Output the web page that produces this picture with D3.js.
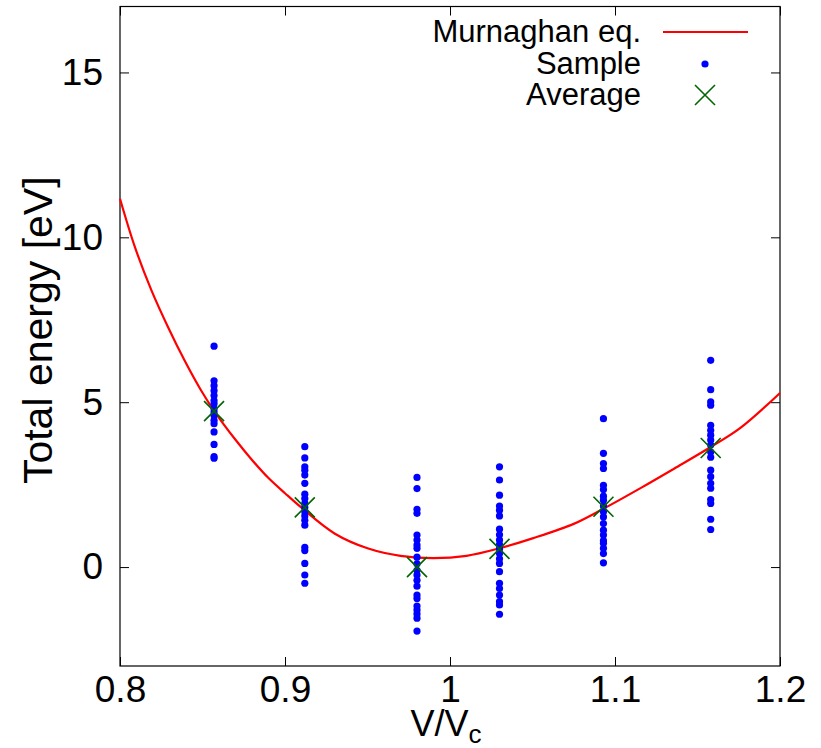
<!DOCTYPE html>
<html>
<head>
<meta charset="utf-8">
<script src="https://cdn.jsdelivr.net/npm/d3@7"></script>
<style>
  body { margin: 0; background: #fff; }
  text { font-family: "Liberation Sans", Arial, sans-serif; fill: #000; }
</style>
</head>
<body>
<div id="chart"></div>
<script>
// volumes of the six sample sets
const volumes = [0.857, 0.912, 0.980, 1.030, 1.093, 1.158]

// sample energies, one array per volume
const sample1 = [6.70, 5.65, 5.50, 5.35, 5.20, 5.05, 4.95, 4.80, 4.70, 4.60, 4.45, 4.35, 4.10, 3.72, 3.35, 3.30]
const sample2 = [3.65, 3.31, 3.04, 2.94, 2.79, 2.54, 2.21, 2.08, 1.93, 1.81, 1.68, 1.55, 1.42, 1.27, 0.60, 0.50, 0.11, -0.24, -0.49]
const sample3 = [2.72, 2.38, 1.75, 1.63, 0.97, 0.82, 0.67, 0.57, 0.30, 0.10, -0.10, -0.24, -0.40, -0.58, -0.85, -0.95, -1.18, -1.30, -1.42, -1.55, -1.94]
const sample4 = [3.04, 2.64, 2.18, 1.85, 1.72, 1.55, 1.15, 0.98, 0.82, 0.68, 0.55, 0.41, 0.25, 0.11, -0.14, -0.49, -0.65, -0.85, -1.05, -1.15, -1.43]
const sample5 = [4.50, 3.45, 3.14, 2.99, 2.48, 2.35, 2.15, 2.03, 1.85, 1.68, 1.52, 1.32, 1.12, 0.97, 0.80, 0.72, 0.57, 0.41, 0.13]
const sample6 = [6.27, 5.38, 5.01, 4.91, 4.30, 4.15, 4.00, 3.85, 3.70, 3.49, 3.33, 2.94, 2.74, 2.54, 2.39, 2.05, 1.93, 1.45, 1.14]
const samples = [sample1, sample2, sample3, sample4, sample5, sample6]

// average energy at each volume
const averages = [4.73, 1.81, 0.00, 0.55, 1.83, 3.61]

// Murnaghan fit
const curveV = [0.800, 0.809, 0.819, 0.829, 0.839, 0.849, 0.857, 0.870, 0.880, 0.890, 0.900, 0.910, 0.930, 0.950, 0.970, 0.990, 1.010, 1.030, 1.050, 1.075, 1.093, 1.116, 1.136, 1.158, 1.176, 1.200]
const curveE = [11.17, 9.71, 8.40, 7.29, 6.28, 5.37, 4.74, 3.86, 3.25, 2.70, 2.24, 1.80, 1.02, 0.57, 0.34, 0.27, 0.34, 0.57, 0.87, 1.31, 1.77, 2.41, 2.99, 3.64, 4.22, 5.28]

const xTicks = [0.8, 0.9, 1.0, 1.1, 1.2]
const xTickLabels = ["0.8", "0.9", "1", "1.1", "1.2"]
const yTicks = [0, 5, 10, 15]
const yTickLabels = ["0", "5", "10", "15"]

const legendLabels = ["Murnaghan eq.", "Sample", "Average"]

const width = 821
const height = 748
const margin = { top: 6.5, right: 41, bottom: 82, left: 120 }

const svg = d3.select("#chart").append("svg")
  .attr("width", width)
  .attr("height", height)

const x = d3.scaleLinear()
  .domain([0.8, 1.2])
  .range([margin.left, width - margin.right])

const y = d3.scaleLinear()
  .domain([-3, 17])
  .range([height - margin.bottom, margin.top])

const tick = 9

// axes, gnuplot style: ticks pointing inward on all four sides
function tidy(g) {
  g.select(".domain").remove()
  g.selectAll("line").attr("stroke", "#000").attr("stroke-width", 1)
}

svg.append("g")
  .attr("transform", `translate(0,${y(-3)})`)
  .call(d3.axisBottom(x).tickValues(xTicks).tickSize(-tick).tickPadding(10)
    .tickFormat((d, i) => xTickLabels[i]))
  .call(tidy)
  .call(g => g.selectAll("text").attr("font-size", 37))

svg.append("g")
  .attr("transform", `translate(0,${y(17)})`)
  .call(d3.axisTop(x).tickValues(xTicks).tickSize(-tick).tickFormat(""))
  .call(tidy)

svg.append("g")
  .attr("transform", `translate(${x(0.8)},0)`)
  .call(d3.axisLeft(y).tickValues(yTicks).tickSize(-tick).tickPadding(17)
    .tickFormat((d, i) => yTickLabels[i]))
  .call(tidy)
  .call(g => g.selectAll("text").attr("font-size", 37))

svg.append("g")
  .attr("transform", `translate(${x(1.2)},0)`)
  .call(d3.axisRight(y).tickValues(yTicks).tickSize(-tick).tickFormat(""))
  .call(tidy)

// frame
svg.append("rect")
  .attr("x", x(0.8))
  .attr("y", y(17))
  .attr("width", x(1.2) - x(0.8))
  .attr("height", y(-3) - y(17))
  .attr("fill", "none")
  .attr("stroke", "#000")
  .attr("stroke-width", 1.2)

// axis titles
svg.append("text")
  .attr("transform", `translate(52,${(y(17) + y(-3)) / 2 - 6}) rotate(-90)`)
  .attr("text-anchor", "middle")
  .attr("font-size", 41)
  .text("Total energy [eV]")

const xt = svg.append("text")
  .attr("x", x(1.0) - 4)
  .attr("y", 736)
  .attr("text-anchor", "middle")
  .attr("font-size", 36)
xt.append("tspan").text("V/V")
xt.append("tspan").attr("font-size", 26).attr("dy", 7).text("c")

// Murnaghan curve
const curveData = curveV.map((v, i) => [v, curveE[i]])
const line = d3.line()
  .x(d => x(d[0]))
  .y(d => y(d[1]))
  .curve(d3.curveCatmullRom)

svg.append("path")
  .datum(curveData)
  .attr("d", line)
  .attr("fill", "none")
  .attr("stroke", "#ff0000")
  .attr("stroke-width", 2.2)

// samples
const pts = []
samples.forEach((arr, i) => arr.forEach(e => pts.push([volumes[i], e])))

svg.append("g")
  .selectAll("circle")
  .data(pts)
  .join("circle")
    .attr("cx", d => x(d[0]))
    .attr("cy", d => y(d[1]))
    .attr("r", 3.6)
    .attr("fill", "#0000ff")

// averages
const cross = 10
function drawCross(g, cx, cy) {
  g.append("path")
    .attr("d", `M${cx - cross},${cy - cross}L${cx + cross},${cy + cross}M${cx - cross},${cy + cross}L${cx + cross},${cy - cross}`)
    .attr("stroke", "#006400")
    .attr("stroke-width", 1.6)
    .attr("fill", "none")
}
const avgG = svg.append("g")
averages.forEach((e, i) => drawCross(avgG, x(volumes[i]), y(e)))

// legend
const legend = svg.append("g")
const rowY = [32, 64, 95]
legend.selectAll("text")
  .data(legendLabels)
  .join("text")
    .attr("x", 641)
    .attr("y", (d, i) => rowY[i] + 10)
    .attr("text-anchor", "end")
    .attr("font-size", 31)
    .text(d => d)

legend.append("line")
  .attr("x1", 663).attr("x2", 748)
  .attr("y1", rowY[0]).attr("y2", rowY[0])
  .attr("stroke", "#ff0000")
  .attr("stroke-width", 2.2)

legend.append("circle")
  .attr("cx", 705).attr("cy", rowY[1])
  .attr("r", 3.6)
  .attr("fill", "#0000ff")

drawCross(legend, 705, rowY[2])
</script>
</body>
</html>
